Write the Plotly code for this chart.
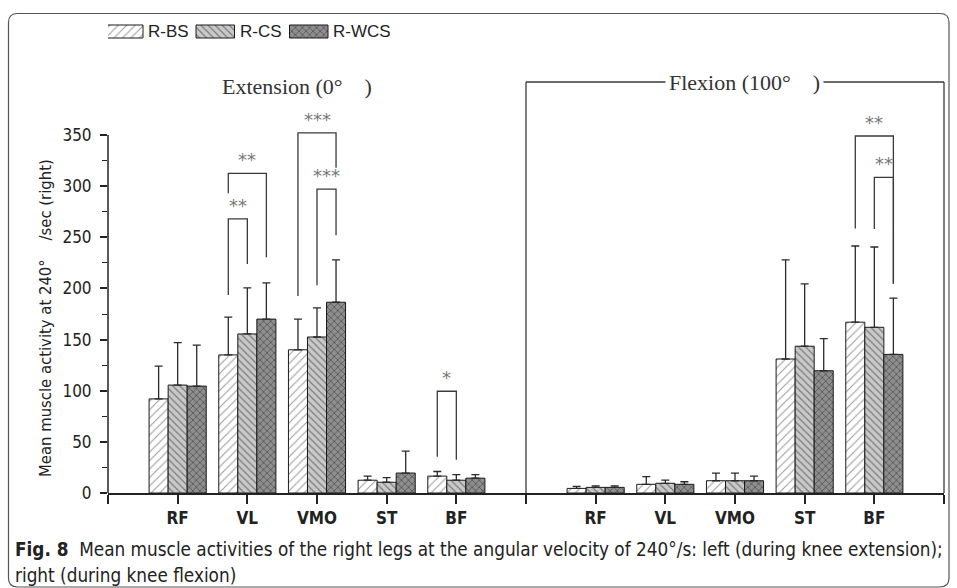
import plotly.graph_objects as go

# ---------------- data ----------------
muscles = ["RF", "VL", "VMO", "ST", "BF"]
series = ["R-BS", "R-CS", "R-WCS"]

# extension (left) and flexion (right) means
ext_bs = [92, 135, 140, 12.5, 16.5]
ext_cs = [105.5, 155.5, 152.5, 10.5, 12.5]
ext_wcs = [104.5, 170, 186.5, 19.5, 14.5]
flx_bs = [4.5, 8.5, 12, 131, 167]
flx_cs = [5.5, 9.5, 12, 143.5, 162]
flx_wcs = [5.5, 8.5, 12, 119.5, 135.5]

# standard deviations (upper error only)
ext_bs_sd = [32, 37, 30, 4, 4.5]
ext_cs_sd = [41.5, 45, 28.5, 4.5, 5.5]
ext_wcs_sd = [40, 35.5, 41.5, 21.5, 3.5]
flx_bs_sd = [2, 7.5, 7.5, 97, 74.5]
flx_cs_sd = [1.5, 3, 7.5, 61, 78.5]
flx_wcs_sd = [1.5, 2.5, 4.5, 31.5, 55]

y_ticks = [0, 50, 100, 150, 200, 250, 300, 350]

# significance brackets: (position index, from series, to series, top, left-leg bottom, right-leg bottom, label)
brackets = [
    (1, 0, 1, 268, 193.5, 224, "**"),
    (1, 0, 2, 312.5, 293, 230.5, "**"),
    (2, 0, 2, 352, 192.5, 318, "***"),
    (2, 1, 2, 297, 203, 252, "***"),
    (4, 0, 1, 99.5, 35.5, 32.5, "*"),
    (10, 0, 2, 349, 258.5, 204.5, "**"),
    (10, 1, 2, 308.5, 258, 204.5, "**"),
]

# ---------------- geometry ----------------
W, H = 957, 588
PL, PR, PT, PB = 108, 944, 10, 493
YSCALE = 358.0 / 350.0
YMAX = (PB - PT) / YSCALE

pos_left = [0, 1, 2, 3, 4]
pos_right = [6, 7, 8, 9, 10]
positions = pos_left + pos_right

BARGAP = 0.18
BW = (1 - BARGAP) / 3.0

def val_of_py(py):
    return (PB - py) / YSCALE

def paper_x(px):
    return (px - PL) / (PR - PL)

def paper_y(py):
    return (PB - py) / (PB - PT)

patterns = [
    dict(shape="/", bgcolor="#ffffff", fgcolor="#3a3a3a", size=6, solidity=0.18),
    dict(shape="\\", bgcolor="#c9c9c9", fgcolor="#2e2e2e", size=5, solidity=0.25),
    dict(shape="x", bgcolor="#8e8e8e", fgcolor="#1c1c1c", size=5, solidity=0.3),
]

means = [ext_bs + flx_bs, ext_cs + flx_cs, ext_wcs + flx_wcs]
sds = [ext_bs_sd + flx_bs_sd, ext_cs_sd + flx_cs_sd, ext_wcs_sd + flx_wcs_sd]

fig = go.Figure()
for i, name in enumerate(series):
    fig.add_trace(go.Bar(
        x=positions, y=means[i], name=name, showlegend=False,
        marker=dict(color=patterns[i]["bgcolor"], pattern=patterns[i],
                    line=dict(color="#1a1a1a", width=1)),
        error_y=dict(type="data", symmetric=False, array=sds[i],
                     arrayminus=[0] * len(sds[i]), color="#2a2a2a",
                     thickness=1.3, width=4),
    ))

# ---------------- legend drawn on an overlay axis ----------------
leg_boxes = [(104.5, 143), (196, 234.5), (289.5, 328)]
leg_top, leg_bot = 25, 38
for i, name in enumerate(series):
    x0, x1 = leg_boxes[i]
    fig.add_trace(go.Bar(
        x=[(x0 + x1) / 2], y=[leg_bot - leg_top], base=[-leg_bot],
        width=[x1 - x0], xaxis="x2", yaxis="y2", showlegend=False,
        hoverinfo="skip",
        marker=dict(color=patterns[i]["bgcolor"], pattern=patterns[i],
                    line=dict(color="#1a1a1a", width=1)),
    ))
    fig.add_annotation(x=x1 + 3, y=-(leg_top + leg_bot) / 2, xref="x2", yref="y2",
                       text=name, showarrow=False, xanchor="left", yanchor="middle",
                       font=dict(family="Liberation Sans", size=17, color="#222"))

shapes = []
line_c = "#3a3a3a"
# brackets
for (p, a, b, top, lb, rb, lab) in brackets:
    xa = p + (a - 1) * BW
    xb = p + (b - 1) * BW
    shapes.append(dict(type="path", xref="x", yref="y",
                       path=f"M{xa},{lb} L{xa},{top} L{xb},{top} L{xb},{rb}",
                       line=dict(color=line_c, width=1.3)))
    fig.add_annotation(x=(xa + xb) / 2, y=top + 1, xref="x", yref="y", text=lab,
                       showarrow=False, yanchor="bottom",
                       font=dict(family="DejaVu Sans", size=18, color="#777"))

# y-axis line (0..350)
shapes.append(dict(type="line", xref="paper", yref="y", x0=0, x1=0, y0=0, y1=350,
                   line=dict(color="#222", width=1.5)))
# flexion frame
fy = val_of_py(82)
xsep = paper_x(PL + 6 * (PR - PL) / 12)
shapes.append(dict(type="line", xref="paper", yref="y", x0=xsep, x1=1,
                   y0=fy, y1=fy, line=dict(color="#3a3a3a", width=1.3)))
shapes.append(dict(type="line", xref="paper", yref="y", x0=xsep, x1=xsep, y0=0, y1=fy,
                   line=dict(color="#3a3a3a", width=1.3)))
shapes.append(dict(type="line", xref="paper", yref="y", x0=1, x1=1, y0=0, y1=fy,
                   line=dict(color="#3a3a3a", width=1.3)))

# rounded outer frame
bx0, by0, bx1, by1, r = 8.5, 13.5, 949, 587, 9
def P(px, py):
    return f"{paper_x(px)},{paper_y(py)}"
frame = (f"M{P(bx0, by0 + r)} Q{P(bx0, by0)} {P(bx0 + r, by0)} L{P(bx1 - r, by0)} "
         f"Q{P(bx1, by0)} {P(bx1, by0 + r)} L{P(bx1, by1 - r)} Q{P(bx1, by1)} {P(bx1 - r, by1)} "
         f"L{P(bx0 + r, by1)} Q{P(bx0, by1)} {P(bx0, by1 - r)} Z")
shapes.append(dict(type="path", xref="paper", yref="paper", path=frame,
                   line=dict(color="#555", width=1.2)))

fig.update_layout(shapes=shapes)

NB = "\u00a0"
fig.add_annotation(x=1.71, y=val_of_py(86), xref="x", yref="y",
                   text=f"Extension{NB}(0°{NB}{NB}{NB}{NB})", showarrow=False,
                   font=dict(family="Liberation Serif", size=22, color="#333"))
fig.add_annotation(x=8.13, y=fy, xref="x", yref="y",
                   text=f"Flexion{NB}(100°{NB}{NB}{NB}{NB})", showarrow=False,
                   bgcolor="white", borderpad=3,
                   font=dict(family="Liberation Serif", size=22, color="#333"))

# y title
fig.add_annotation(x=paper_x(45), y=paper_y(318), xref="paper", yref="paper",
                   xanchor="center", yanchor="middle",
                   text=f"Mean muscle activity at 240°{NB}{NB}{NB}{NB}/sec (right)",
                   textangle=-90, showarrow=False,
                   font=dict(family="DejaVu Sans Condensed, DejaVu Sans", size=16.5, color="#222"))

# caption
cap_font = "DejaVu Sans Condensed"
fig.add_annotation(x=paper_x(13), y=paper_y(549), xref="paper", yref="paper",
                   xanchor="left", yanchor="middle", showarrow=False,
                   text=("<b>Fig.\u00a08</b>"
                         f"{NB}{NB}Mean muscle activities of the right legs at the angular velocity of 240°/s: "
                         "left (during knee extension);"),
                   font=dict(family=cap_font, size=18.8, color="#222"))
fig.add_annotation(x=paper_x(13), y=paper_y(575), xref="paper", yref="paper",
                   xanchor="left", yanchor="middle", showarrow=False,
                   text="right (during knee flexion)",
                   font=dict(family=cap_font, size=18.8, color="#222"))

tickvals = [-1] + pos_left + [5] + pos_right + [11]
ticktext = [""] + muscles + [""] + muscles + [""]

fig.update_layout(
    width=W, height=H,
    margin=dict(l=PL, r=W - PR, t=PT, b=H - PB, pad=0),
    paper_bgcolor="white", plot_bgcolor="white",
    barmode="group", bargap=BARGAP, bargroupgap=0,
    showlegend=False,
    xaxis=dict(range=[-1, 11], tickvals=tickvals, ticktext=ticktext,
               showgrid=False, zeroline=False, showline=True, linecolor="#222", linewidth=1.5,
               ticks="outside", ticklen=9, tickwidth=1.5, tickcolor="#222",
               tickfont=dict(family="DejaVu Sans Condensed, DejaVu Sans", size=17, color="#222",
                             weight="bold")),
    yaxis=dict(range=[0, YMAX], tickvals=y_ticks, showgrid=False, zeroline=False,
               showline=False, ticks="outside", ticklen=7, tickwidth=1.5, tickcolor="#222",
               ticklabelstandoff=5,
               tickfont=dict(family="DejaVu Sans Condensed, DejaVu Sans", size=17, color="#222"),
               minor=dict(tickvals=[25, 75, 125, 175, 225, 275, 325], ticks="outside",
                          ticklen=5, tickwidth=1.3, tickcolor="#222")),
    xaxis2=dict(range=[PL, PR], overlaying="x", anchor="y2", visible=False),
    yaxis2=dict(range=[-PB, -PT], overlaying="y", anchor="x2", visible=False),
)

fig.write_html("out.html")
